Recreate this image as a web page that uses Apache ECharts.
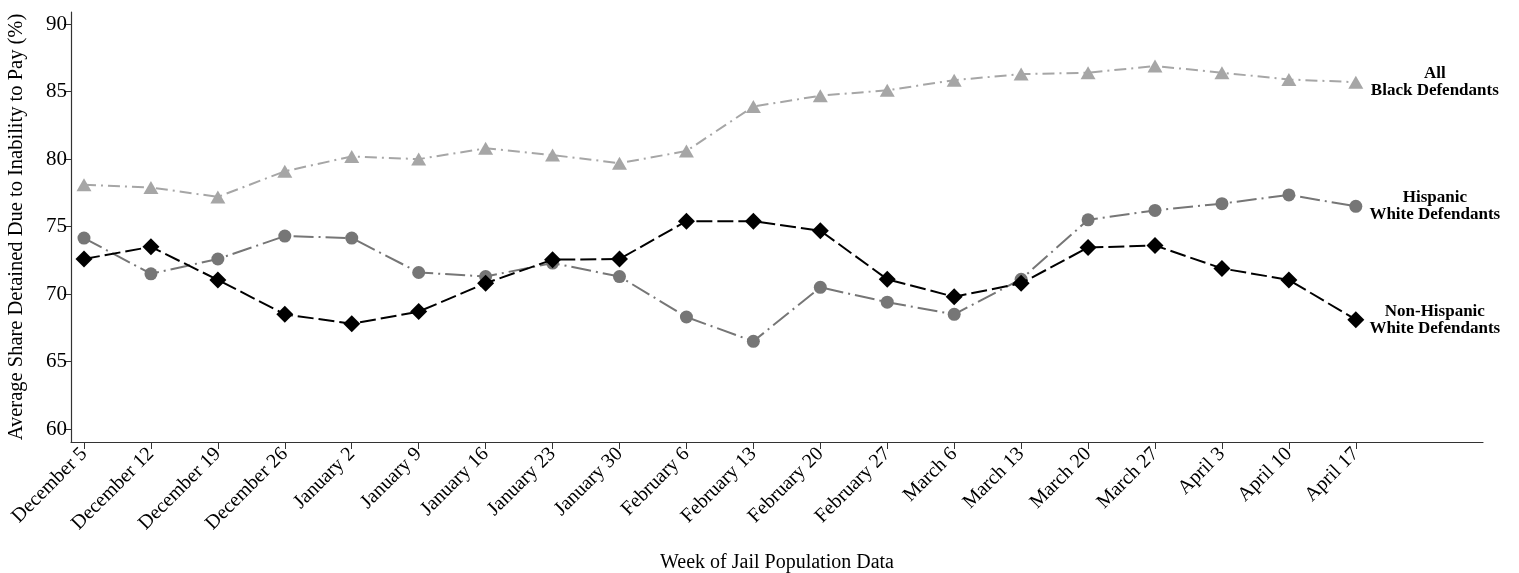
<!DOCTYPE html>
<html>
<head>
<meta charset="utf-8">
<script src="https://cdn.jsdelivr.net/npm/echarts@6/dist/echarts.min.js"></script>
<style>
html,body{margin:0;padding:0;background:#fff;}
#chart{width:1519px;height:573px;}
</style>
</head>
<body>
<div id="chart"></div>
<script>
var weeks = ["December 5","December 12","December 19","December 26","January 2","January 9","January 16","January 23","January 30","February 6","February 13","February 20","February 27","March 6","March 13","March 20","March 27","April 3","April 10","April 17"];
var allBlack = [78.1,77.9,77.2,79.1,80.2,80.0,80.8,80.3,79.7,80.6,83.9,84.7,85.1,85.85,86.3,86.4,86.9,86.4,85.9,85.7];
var hispanicWhite = [74.15,71.5,72.6,74.3,74.15,71.6,71.3,72.3,71.3,68.3,66.5,70.5,69.4,68.5,71.1,75.5,76.2,76.7,77.35,76.5];
var nonHispanicWhite = [72.6,73.5,71.05,68.5,67.8,68.7,70.8,72.55,72.6,75.4,75.4,74.7,71.1,69.8,70.8,73.45,73.6,71.9,71.05,68.1];
var yTicks = [60,65,70,75,80,85,90];

var FONT = "Liberation Serif";
function pairs(arr){ return arr.map(function(v,i){ return [i,v]; }); }
var xIdx = weeks.map(function(w,i){ return i; });

function mkSeries(name, data, color, symbol, size, dash, z){
  return {
    name: name, type: 'line', data: pairs(data), z: z,
    symbol: symbol, symbolSize: size,
    itemStyle: {color: color},
    lineStyle: {color: color, width: 2, type: dash},
    endLabel: {
      show: true, formatter: name, align: 'center', verticalAlign: 'middle',
      distance: 79, fontFamily: FONT, fontWeight: 'bold', fontSize: 17,
      lineHeight: 17, color: '#000'
    },
    animation: false
  };
}

var chart = echarts.init(document.getElementById('chart'));
chart.setOption({
  animation: false,
  grid: {left: 71, right: 36, top: 12, bottom: 131, containLabel: false, outerBoundsMode: 'none'},
  xAxis: {
    type: 'value', min: -0.194, max: 20.9,
    name: 'Week of Jail Population Data', nameLocation: 'middle', nameGap: 111,
    nameTextStyle: {fontFamily: FONT, fontSize: 20, color: '#000'},
    axisLine: {show: true, onZero: false, lineStyle: {color: '#333', width: 1.2}},
    axisTick: {show: true, length: 7, customValues: xIdx, lineStyle: {color: '#333'}},
    axisLabel: {customValues: xIdx, rotate: 45, fontFamily: FONT, fontSize: 20, color: '#000', margin: 9,
      formatter: function(v){ return weeks[Math.round(v)] || ''; }},
    splitLine: {show: false}
  },
  yAxis: {
    type: 'value', min: 59.04, max: 90.9,
    name: 'Average Share Detained Due to Inability to Pay (%)', nameLocation: 'middle', nameGap: 44,
    nameTextStyle: {fontFamily: FONT, fontSize: 20.5, color: '#000'},
    axisLine: {show: true, onZero: false, lineStyle: {color: '#333', width: 1.2}},
    axisTick: {show: true, length: 7, customValues: yTicks, lineStyle: {color: '#333'}},
    axisLabel: {customValues: yTicks, fontFamily: FONT, fontSize: 21, color: '#000', margin: 4},
    splitLine: {show: false}
  },
  series: [
    mkSeries('All\nBlack Defendants', allBlack, '#a6a6a6', 'triangle', [15,13], [12,5,2,5], 2),
    mkSeries('Hispanic\nWhite Defendants', hispanicWhite, '#767676', 'circle', 13, [20,5,2,5], 3),
    mkSeries('Non-Hispanic\nWhite Defendants', nonHispanicWhite, '#000000', 'diamond', [17,17], [16,5], 4)
  ]
});
</script>
</body>
</html>
